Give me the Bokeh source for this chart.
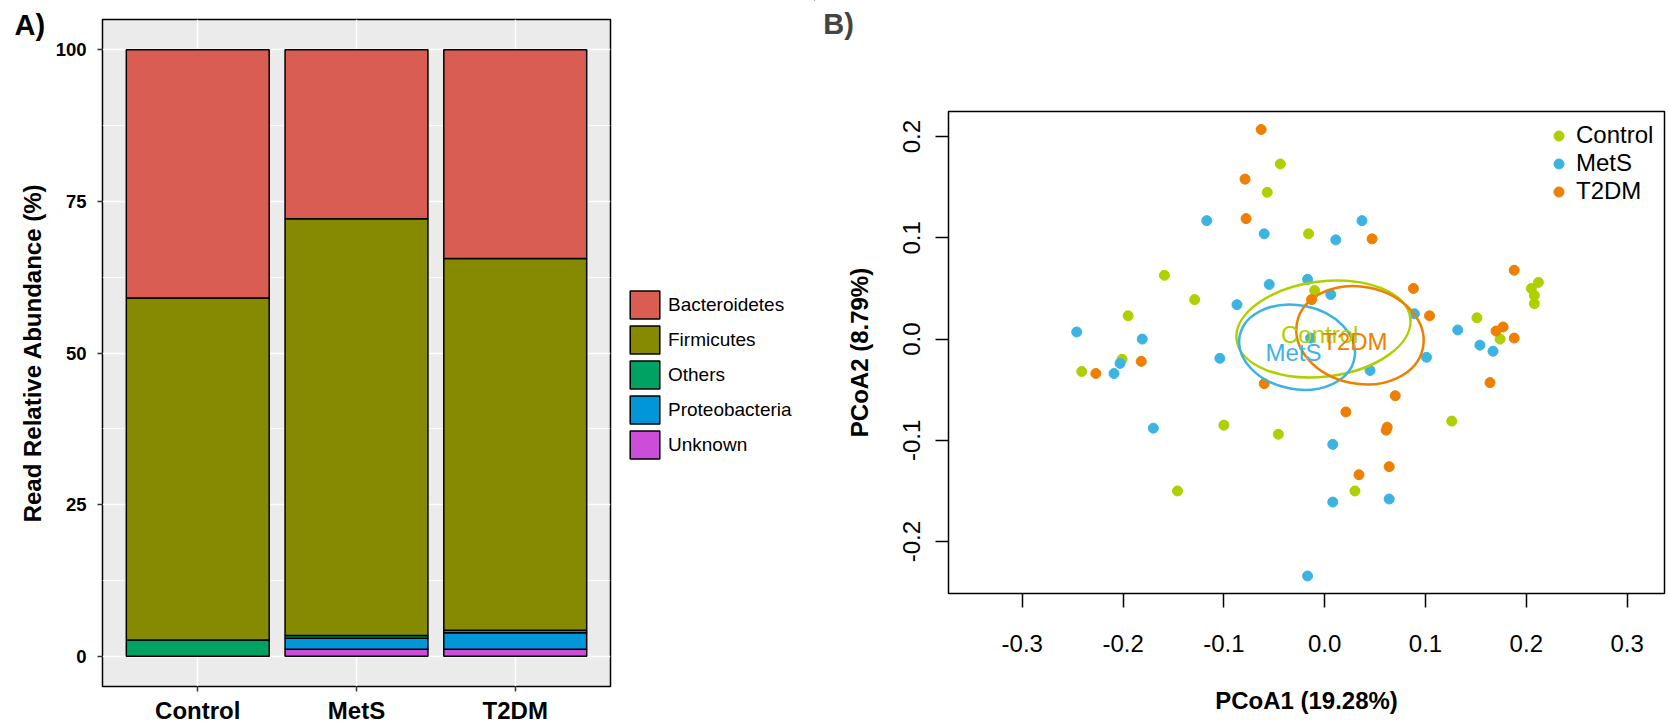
import math
from bokeh.plotting import figure
from bokeh.models import (ColumnDataSource, FactorRange, Range1d, FixedTicker,
                          Legend, LegendItem, Label, PrintfTickFormatter)
from bokeh.layouts import row, column
from bokeh.embed import file_html
from bokeh.resources import INLINE

# ---------------- data: panel A ----------------
groups = ["Control", "MetS", "T2DM"]
phyla = ["Bacteroidetes", "Firmicutes", "Others", "Proteobacteria", "Unknown"]
bacteroidetes = [40.92, 27.87, 34.43]
firmicutes = [56.41, 68.72, 61.30]
others = [2.67, 0.45, 0.40]
proteobacteria = [0.0, 1.82, 2.73]
unknown = [0.0, 1.14, 1.14]
y_ticks_a = [0, 25, 50, 75, 100]
y_minor_a = [12.5, 37.5, 62.5, 87.5]

# ---------------- data: panel B ----------------
control_x = [-0.195, -0.159, -0.129, -0.201, -0.241, -0.100, -0.146, -0.044, -0.057, -0.016,
             -0.010, 0.212, 0.205, 0.208, 0.208, 0.151, 0.174, -0.046, 0.126, 0.030]
control_y = [0.023, 0.063, 0.039, -0.020, -0.032, -0.085, -0.150, 0.173, 0.145, 0.104,
             0.048, 0.056, 0.050, 0.043, 0.035, 0.021, 0.000, -0.094, -0.081, -0.150]
mets_x = [-0.246, -0.181, -0.087, -0.117, -0.104, -0.203, -0.209, -0.170, -0.060, 0.011,
          0.037, -0.055, -0.017, 0.006, 0.089, 0.132, 0.154, 0.167, 0.101, 0.045,
          0.008, 0.008, 0.064, -0.017, -0.014]
mets_y = [0.007, 0.000, 0.034, 0.117, -0.019, -0.024, -0.034, -0.088, 0.104, 0.098,
          0.117, 0.054, 0.059, 0.044, 0.025, 0.009, -0.006, -0.012, -0.018, -0.031,
          -0.104, -0.161, -0.158, -0.234, 0.001]
t2dm_x = [-0.182, -0.227, -0.063, -0.079, -0.078, 0.047, -0.013, 0.088, 0.104, 0.188,
          0.170, 0.177, 0.188, -0.060, 0.164, 0.070, 0.021, 0.062, 0.061, 0.064, 0.034]
t2dm_y = [-0.022, -0.034, 0.207, 0.158, 0.119, 0.099, 0.039, 0.050, 0.023, 0.068,
          0.008, 0.012, 0.001, -0.044, -0.043, -0.056, -0.072, -0.087, -0.090, -0.126, -0.134]
# ordination ellipses (centre, semi-axes, rotation in radians) and centroid labels
ell_x = [-0.0012, -0.0274, 0.0350]
ell_y = [0.0100, -0.0080, 0.0038]
ell_a = [0.0868, 0.0580, 0.0637]
ell_b = [0.0470, 0.0414, 0.0479]
ell_angle = [0.125, -0.195, -0.200]
lab_x = [-0.005, -0.031, 0.030]
lab_y = [0.0045, -0.0137, -0.0019]
ticks_b = [-0.3, -0.2, -0.1, 0.0, 0.1, 0.2, 0.3]

FONT = "Liberation Sans"
phylum_colors = {"Bacteroidetes": "#DA5D54", "Firmicutes": "#868A00", "Others": "#00A263",
                 "Proteobacteria": "#0096D8", "Unknown": "#CC4ED8"}
group_colors = ["#AFCF00", "#3CB4E1", "#EF7F00"]

# ================= Panel A =================
pA = figure(width=612, height=727, output_backend="svg", toolbar_location=None,
            x_range=FactorRange(factors=groups, range_padding=0.1, range_padding_units="absolute"),
            y_range=Range1d(-5, 105),
            min_border_left=102, min_border_right=2, min_border_top=19, min_border_bottom=41)
pA.frame_align = False
pA.background_fill_color = "#EBEBEB"
pA.border_fill_color = "white"
pA.outline_line_color = "black"
pA.outline_line_width = 1.5

pA.title.text = "A)"
pA.title.text_font = FONT
pA.title.text_font_style = "bold"
pA.title.text_font_size = "29px"
pA.title.text_color = "black"
pA.title.align = "left"
pA.title.vertical_align = "bottom"
pA.title.offset = -88
pA.title.standoff = -42

src = ColumnDataSource(dict(group=groups, Bacteroidetes=bacteroidetes, Firmicutes=firmicutes,
                            Others=others, Proteobacteria=proteobacteria, Unknown=unknown))
stack_order = ["Unknown", "Proteobacteria", "Others", "Firmicutes", "Bacteroidetes"]
pA.vbar_stack(stack_order, x="group", width=0.9, source=src,
              color=[phylum_colors[s] for s in stack_order],
              line_color="black", line_width=1.5)

pA.yaxis.ticker = FixedTicker(ticks=y_ticks_a, minor_ticks=y_minor_a)
pA.xgrid.grid_line_color = "white"
pA.xgrid.grid_line_width = 1.5
pA.ygrid.grid_line_color = "white"
pA.ygrid.grid_line_width = 1.5
pA.ygrid.minor_grid_line_color = "white"
pA.ygrid.minor_grid_line_width = 0.8
for ax in (pA.xaxis[0], pA.yaxis[0]):
    ax.axis_line_color = None
    ax.major_tick_in = 0
    ax.major_tick_out = 5
    ax.major_tick_line_color = "#333333"
    ax.major_tick_line_width = 1.5
    ax.minor_tick_line_color = None
    ax.major_label_text_font = FONT
    ax.major_label_text_font_style = "bold"
    ax.major_label_text_color = "black"
pA.yaxis.major_label_text_font_size = "18.5px"
pA.yaxis.major_label_standoff = 11
pA.yaxis.axis_label = "Read Relative Abundance (%)"
pA.yaxis.axis_label_text_font = FONT
pA.yaxis.axis_label_text_font_style = "bold"
pA.yaxis.axis_label_text_font_size = "24px"
pA.yaxis.axis_label_text_color = "black"
pA.yaxis.axis_label_standoff = 7
pA.xaxis.major_label_text_font_size = "24px"
pA.xaxis.major_label_standoff = 5

# legend for panel A lives in its own narrow canvas to the right of the panel;
# its proxy bars sit outside that canvas' visible range
pL = figure(width=203, height=727, output_backend="svg", toolbar_location=None,
            x_range=Range1d(0, 1), y_range=Range1d(0, 1),
            x_axis_type=None, y_axis_type=None, min_border=0)
pL.frame_align = False
pL.outline_line_color = None
pL.grid.grid_line_color = None
items = []
for ph in phyla:
    proxy = pL.vbar(x=[5], top=[6], bottom=[5], width=0.5, fill_color=phylum_colors[ph],
                    line_color="black", line_width=1.5)
    items.append(LegendItem(label=ph, renderers=[proxy]))
legA = Legend(items=items, location=(14, 265), glyph_width=37, glyph_height=35, spacing=0,
              label_standoff=5, padding=0, margin=0,
              label_text_font=FONT, label_text_font_size="19px", label_text_color="black",
              background_fill_alpha=0, border_line_color=None)
pL.add_layout(legA)

# ================= Panel B (letter strip + plot) =================
pC = figure(width=854, height=45, output_backend="svg", toolbar_location=None,
            x_range=Range1d(0, 854), y_range=Range1d(0, 45),
            x_axis_type=None, y_axis_type=None, min_border=0)
pC.frame_align = False
pC.outline_line_color = None
pC.add_layout(Label(x=23, y=22, text="B)", text_font=FONT, text_font_style="bold",
                    text_font_size="29px", text_align="center", text_baseline="middle"))

pB = figure(width=854, height=682, output_backend="svg", toolbar_location=None,
            x_range=Range1d(-0.3732, 0.3371), y_range=Range1d(-0.2513, 0.2248),
            min_border_left=133, min_border_right=5, min_border_top=66, min_border_bottom=134)
pB.frame_align = False
pB.background_fill_color = "white"
pB.outline_line_color = "black"
pB.outline_line_width = 1.5
pB.grid.grid_line_color = None

rB = []
for gx, gy, col in [(control_x, control_y, group_colors[0]),
                    (mets_x, mets_y, group_colors[1]),
                    (t2dm_x, t2dm_y, group_colors[2])]:
    rB.append(pB.scatter(gx, gy, size=10, color=col, line_color=col))

pB.ellipse(x=ell_x, y=ell_y, width=[2 * a for a in ell_a], height=[2 * b for b in ell_b],
           angle=ell_angle, fill_color=None, line_color=group_colors, line_width=2.5)
pB.text(x=lab_x, y=lab_y, text=groups, text_color=group_colors, text_font_size="24px",
        text_font={"value": FONT}, text_align="center", text_baseline="middle")

for ax in (pB.xaxis[0], pB.yaxis[0]):
    ax.ticker = FixedTicker(ticks=ticks_b)
    ax.formatter = PrintfTickFormatter(format="%.1f")
    ax.axis_line_color = None
    ax.major_tick_in = 0
    ax.major_tick_line_color = "black"
    ax.major_tick_line_width = 1.5
    ax.minor_tick_line_color = None
    ax.major_label_text_font = FONT
    ax.major_label_text_font_size = "24px"
    ax.major_label_text_color = "black"
    ax.axis_label_text_font = FONT
    ax.axis_label_text_font_style = "bold"
    ax.axis_label_text_font_size = "24px"
    ax.axis_label_text_color = "black"
pB.xaxis.major_tick_out = 14
pB.xaxis.major_label_standoff = 27
pB.xaxis.axis_label = "PCoA1 (19.28%)"
pB.xaxis.axis_label_standoff = 32
pB.yaxis.major_tick_out = 13
pB.yaxis.major_label_standoff = 15
pB.yaxis.major_label_orientation = "parallel"
pB.yaxis.axis_label = "PCoA2 (8.79%)"
pB.yaxis.axis_label_standoff = 28

legB = Legend(items=[LegendItem(label=g, renderers=[r]) for g, r in zip(groups, rB)],
              location=(598, 388), glyph_width=25, glyph_height=25, spacing=-3,
              label_standoff=5, padding=0, margin=0,
              label_text_font=FONT, label_text_font_size="24px", label_text_color="black",
              background_fill_alpha=0, border_line_color=None)
pB.add_layout(legB)

layout = row(pA, pL, column(pC, pB))
open("out.html", "w").write(file_html(layout, INLINE))
